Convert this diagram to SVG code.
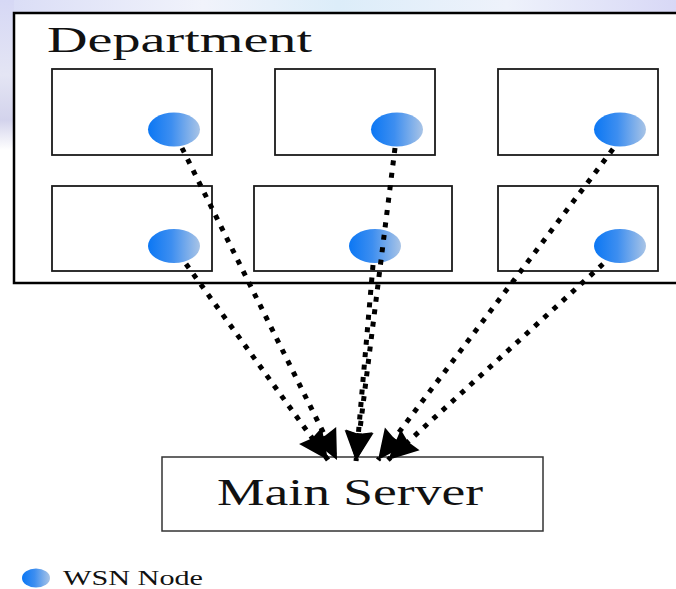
<svg xmlns="http://www.w3.org/2000/svg" width="676" height="589" viewBox="0 0 676 589">
  <defs>
    <linearGradient id="node" x1="0" y1="0" x2="1" y2="0">
      <stop offset="0" stop-color="#0b77f4"/>
      <stop offset="0.45" stop-color="#3d8ef0"/>
      <stop offset="1" stop-color="#a9c4e6"/>
    </linearGradient>
    <linearGradient id="bgTop" x1="0" y1="0" x2="1" y2="0">
      <stop offset="0" stop-color="#d9dcf6"/>
      <stop offset="0.3" stop-color="#f1f3fb"/>
      <stop offset="0.5" stop-color="#dcedf9"/>
      <stop offset="0.75" stop-color="#eef2fb"/>
      <stop offset="1" stop-color="#d8d8f6"/>
    </linearGradient>
    <linearGradient id="bgLeft" x1="0" y1="0" x2="0" y2="1">
      <stop offset="0" stop-color="#d6d8f5"/>
      <stop offset="0.5" stop-color="#e4e5f4"/>
      <stop offset="0.8" stop-color="#d3d3ec"/>
      <stop offset="1" stop-color="#ffffff"/>
    </linearGradient>
    <marker id="arrow" markerUnits="userSpaceOnUse" markerWidth="40" markerHeight="40" viewBox="0 -20 40 40" refX="30" refY="0" orient="auto" overflow="visible">
      <path d="M0,-14 L30,0 L0,14 L3,0 Z" fill="#000"/>
    </marker>
    <style>
      .room { fill: #fff; stroke: #1a1a1a; stroke-width: 1.8; }
      .wsn { fill: url(#node); }
      .link { fill: none; stroke: #000; stroke-width: 5; stroke-dasharray: 5 7.5; marker-end: url(#arrow); }
      .label { font-family: "Liberation Serif", "DejaVu Serif", serif; fill: #111; }
    </style>
  </defs>

  <rect x="0" y="0" width="676" height="589" fill="#fff"/>
  <rect x="0" y="0" width="676" height="13" fill="url(#bgTop)"/>
  <rect x="0" y="0" width="14" height="150" fill="url(#bgLeft)"/>

  <g id="department">
    <rect x="14" y="13" width="680" height="270" fill="#fff" stroke="#000" stroke-width="2.5"/>
    <text class="label" x="47" y="52" font-size="35" textLength="265" lengthAdjust="spacingAndGlyphs">Department</text>
  </g>

  <g id="room-1-1">
    <rect class="room" x="52" y="69" width="160" height="86"/>
    <ellipse class="wsn" cx="174" cy="129.5" rx="26" ry="17"/>
  </g>
  <g id="room-1-2">
    <rect class="room" x="275" y="69" width="160" height="86"/>
    <ellipse class="wsn" cx="397" cy="129.5" rx="26" ry="17"/>
  </g>
  <g id="room-1-3">
    <rect class="room" x="498" y="69" width="160" height="86"/>
    <ellipse class="wsn" cx="620" cy="129.5" rx="26" ry="17"/>
  </g>
  <g id="room-2-1">
    <rect class="room" x="52" y="186" width="160" height="85"/>
    <ellipse class="wsn" cx="174" cy="246" rx="26" ry="17"/>
  </g>
  <g id="room-2-2">
    <rect class="room" x="254" y="186" width="198" height="85"/>
    <ellipse class="wsn" cx="375" cy="246" rx="26" ry="17"/>
  </g>
  <g id="room-2-3">
    <rect class="room" x="498" y="186" width="160" height="85"/>
    <ellipse class="wsn" cx="620" cy="246" rx="26" ry="17"/>
  </g>

  <g id="main-server">
    <rect x="162" y="457" width="381" height="74" fill="#fff" stroke="#333" stroke-width="1.5"/>
    <text class="label" x="217" y="505" font-size="38" textLength="266" lengthAdjust="spacingAndGlyphs">Main Server</text>
  </g>

  <g id="connectors">
    <line class="link" x1="182" y1="148" x2="337" y2="460"/>
    <line class="link" x1="186" y1="264" x2="328" y2="460"/>
    <line class="link" x1="395" y1="148" x2="356" y2="461"/>
    <line class="link" x1="373" y1="265" x2="356" y2="461"/>
    <line class="link" x1="613" y1="149" x2="378" y2="460"/>
    <line class="link" x1="603" y1="264" x2="388" y2="460"/>
  </g>

  <g id="legend">
    <ellipse class="wsn" cx="36" cy="578" rx="14" ry="9.5"/>
    <text class="label" x="63" y="585" font-size="21" textLength="140" lengthAdjust="spacingAndGlyphs">WSN Node</text>
  </g>
</svg>
